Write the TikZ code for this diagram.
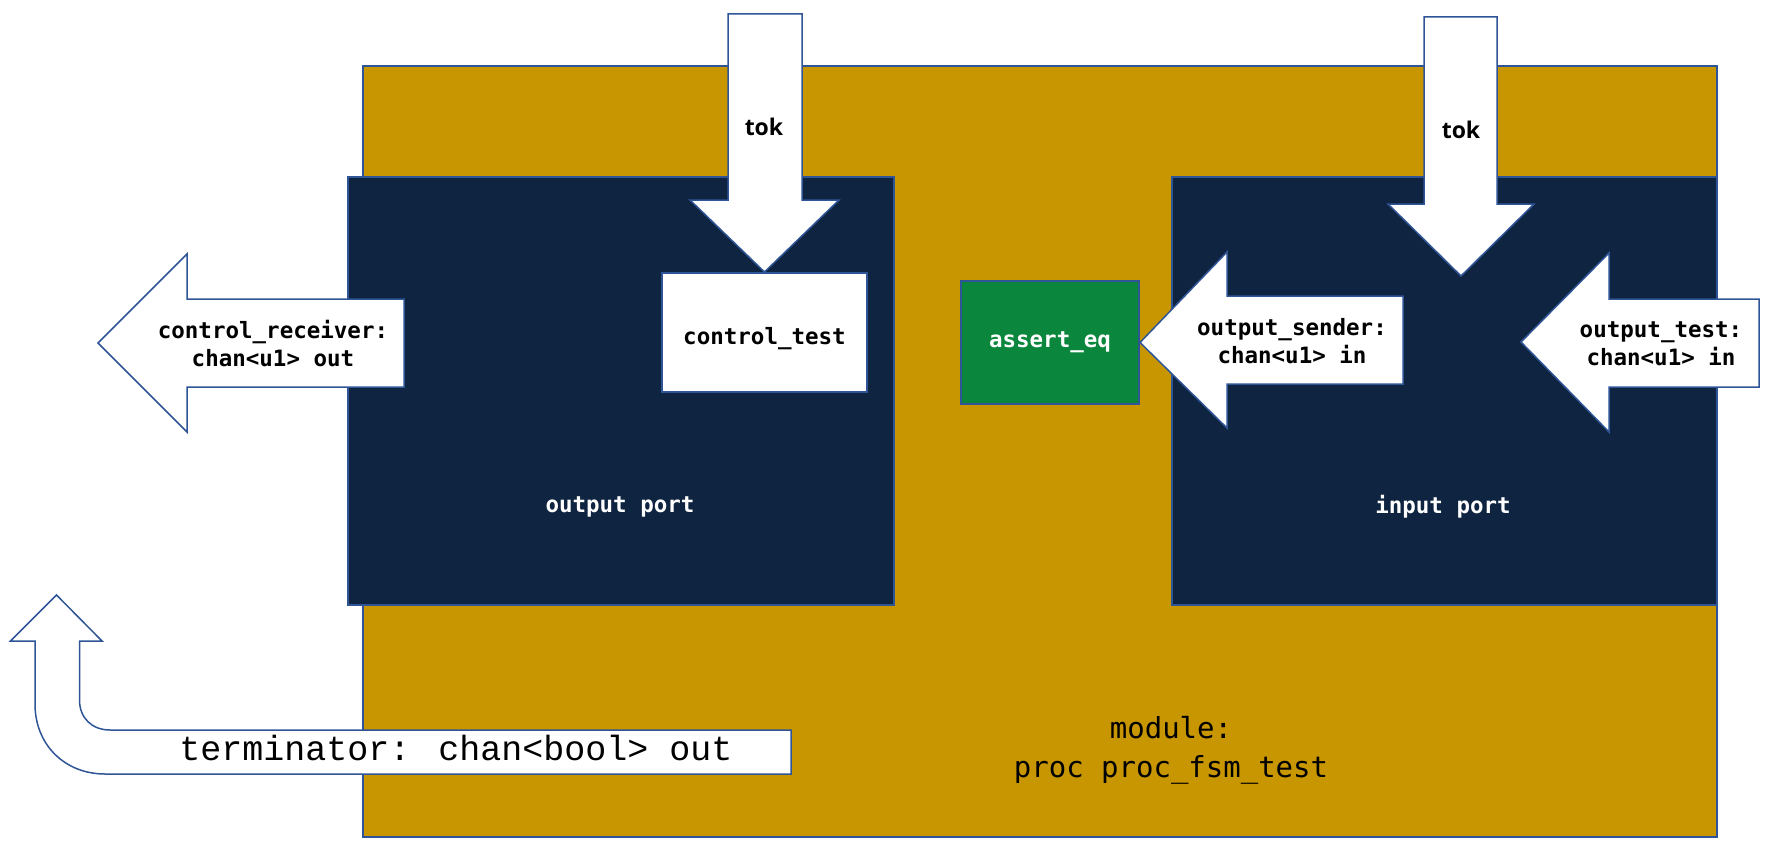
\documentclass[tikz,border=0pt]{standalone}
\usepackage{fontspec}
\setmonofont{DejaVu Sans Mono}
\newfontfamily\courierfont{Liberation Mono}
\newfontfamily\tokfont{Open Sans}
\definecolor{modgold}{RGB}{200,150,0}
\definecolor{portnavy}{RGB}{14,36,64}
\definecolor{edgeblue}{RGB}{47,85,151}
\definecolor{assertgreen}{RGB}{11,135,61}
\begin{document}
\begin{tikzpicture}[x=1pt,y=-1pt,every node/.style={font=\ttfamily\bfseries\fontsize{22.5}{28}\selectfont,align=center},
  blk/.style={draw=edgeblue,line width=2pt},
  arr/.style={draw=edgeblue,fill=white,line width=1.5pt}]
  \useasboundingbox (0,0) rectangle (1774,848);
  % module with its two ports
  \draw[blk,fill=modgold] (363,66) rectangle (1717,837);
  \draw[blk,fill=portnavy] (348,177) rectangle (894,605);
  \draw[blk,fill=portnavy] (1172,177) rectangle (1717,605);
  \node[text=white] (outport) at (620,507) {output port};
  \node[text=white] (inport) at (1443,507) {input port};
  % inner blocks
  \node[blk,fill=white,minimum width=205pt,minimum height=119pt,inner sep=0pt,text height=26pt,text depth=2pt] (ctest) at (764.5,332.5) {control\_test};
  \node[blk,fill=assertgreen,text=white,minimum width=178pt,minimum height=123pt,inner sep=0pt] (assert) at (1050,342.5) {assert\_eq};
  \coordinate (intip) at (1461,276);
  % tok arrows
  \draw[arr] (728,14) -- (802,14) -- (802,200) -- (839,200) -- (ctest.north) -- (690,200) -- (728,200) -- cycle;
  \node[font=\tokfont\bfseries\fontsize{23}{27}\selectfont] (tokout) at (764,127) {tok};
  \draw[arr] (1424,17) -- (1497,17) -- (1497,204) -- (1534,204) -- (intip) -- (1388,204) -- (1424,204) -- cycle;
  \node[font=\tokfont\bfseries\fontsize{23}{27}\selectfont] (tokin) at (1461,130) {tok};
  % channel arrows
  \draw[arr] (404,299) -- (187,299) -- (187,254) -- (98,343) -- (187,432) -- (187,387) -- (404,387) -- cycle;
  \node (recv) at (273,344) {control\_receiver:\\chan<u1> out};
  \draw[arr] (1403,296) -- (1227,296) -- (1227,252) -- (assert.east) -- (1227,428) -- (1227,384) -- (1403,384) -- cycle;
  \node (sender) at (1292,341) {output\_sender:\\chan<u1> in};
  \draw[arr] (1759,299) -- (1609,299) -- (1609,253) -- (1521,342) -- (1609,432) -- (1609,387) -- (1759,387) -- cycle;
  \node (otest) at (1661,344) {output\_test:\\chan<u1> in};
  % terminator, bent up
  \draw[arr] (791,730) -- (110,730) .. controls (92,730) and (79.5,718) .. (79.5,700) -- (79.5,641) -- (102,641)
    -- (56.5,595) -- (10.5,641) -- (35,641) -- (35,704) .. controls (35,745) and (65,774) .. (105,774) -- (791,774) -- cycle;
  \node[font=\courierfont\fontsize{35}{40}\selectfont,anchor=base] (term) at (456,760) {terminator: chan<bool> out};
  \node[font=\ttfamily\fontsize{29}{39}\selectfont] (modname) at (1171,750) {module:\\proc proc\_fsm\_test};
\end{tikzpicture}
\end{document}
